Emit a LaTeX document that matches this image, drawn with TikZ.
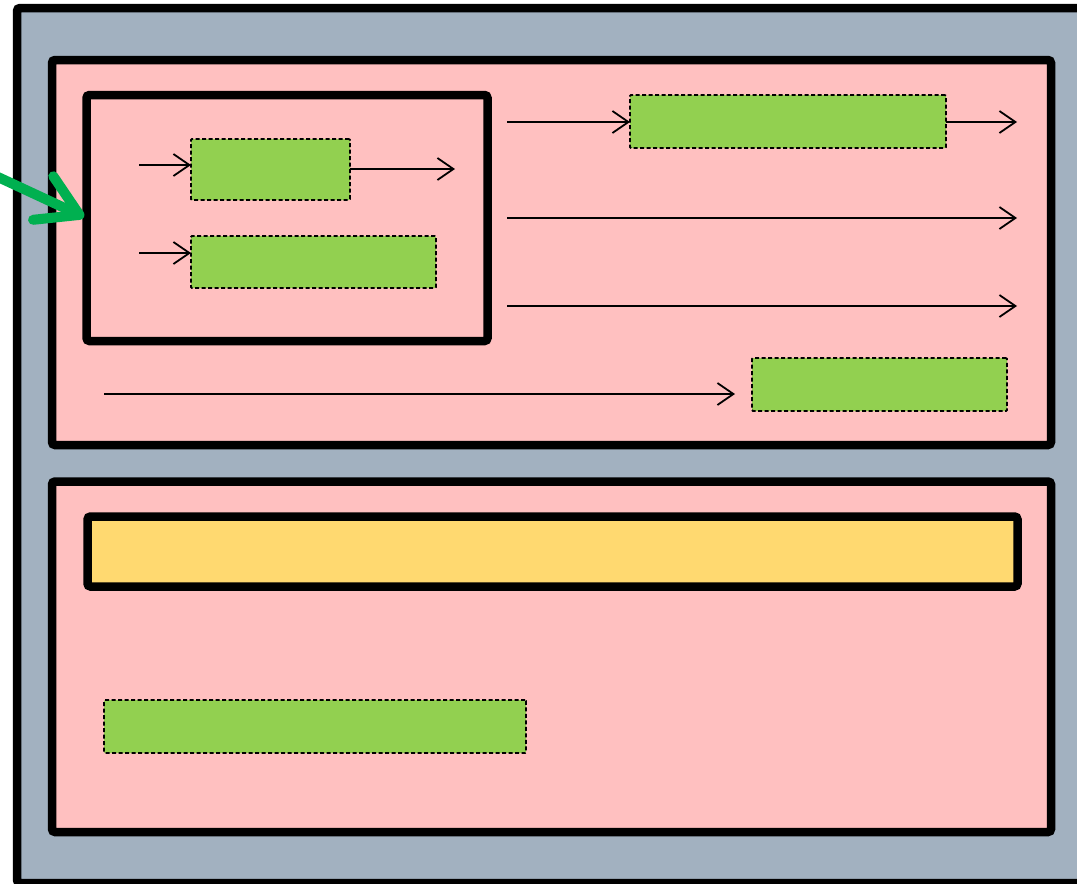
\documentclass[tikz,border=0pt]{standalone}
\usetikzlibrary{arrows.meta}
\definecolor{bggrey}{RGB}{162,177,192}
\definecolor{pinkfill}{RGB}{255,192,192}
\definecolor{greenfill}{RGB}{146,208,80}
\definecolor{yellowfill}{RGB}{255,217,112}
\definecolor{arrowgreen}{RGB}{0,176,80}
\tikzset{
  frame/.style={draw=black, line width=8.5pt, rounded corners=3pt, inner sep=0pt, outer sep=0pt, anchor=north west},
  greenbox/.style={draw=black, fill=greenfill, line width=1.8pt, dash pattern=on 4pt off 2.5pt, rounded corners=1pt, inner sep=0pt, outer sep=0pt, anchor=north west},
  conn/.style={line width=1.8pt, -{Straight Barb[length=16pt,width=22pt,line width=1.8pt]}},
  bigarrow/.style={draw=arrowgreen, line width=10pt, line cap=round, -{Straight Barb[length=40pt,width=48pt,round]}},
}
\begin{document}
\begin{tikzpicture}[x=1pt,y=-1pt]
\useasboundingbox (0,0) rectangle (1077,884);
% outer grey frame
\node[frame, fill=bggrey, minimum width=1068pt, minimum height=875pt] (outer) at (17,8) {};
% top and bottom panels
\node[frame, fill=pinkfill, minimum width=999pt, minimum height=385pt] (top) at (52,60) {};
\node[frame, fill=pinkfill, minimum width=999pt, minimum height=350.5pt] (bottom) at (52,481.5) {};
% inner box
\node[frame, fill=pinkfill, minimum width=401pt, minimum height=246pt] (inner) at (86.5,95) {};
% yellow bar
\node[frame, fill=yellowfill, minimum width=930pt, minimum height=70pt] (bar) at (87.5,516.5) {};
% green boxes
\node[greenbox, minimum width=159pt, minimum height=61pt] (A) at (191,139) {};
\node[greenbox, minimum width=245pt, minimum height=52pt] (B) at (191,236) {};
\node[greenbox, minimum width=316pt, minimum height=53pt] (C) at (630,95) {};
\node[greenbox, minimum width=255pt, minimum height=53pt] (D) at (752,358) {};
\node[greenbox, minimum width=422pt, minimum height=53pt] (E) at (104,700) {};
% connector coordinates
\coordinate (a1s) at (139,165);
\coordinate (a1e) at (455,169);
\coordinate (b1s) at (139,253);
\coordinate (c1s) at (507,122);
\coordinate (c1e) at (1017,122);
\coordinate (r2s) at (507,218);
\coordinate (r2e) at (1017,218);
\coordinate (r3s) at (507,306);
\coordinate (r3e) at (1017,306);
\coordinate (d1s) at (104,394);
\coordinate (d1e) at (735,394);
\coordinate (gs) at (-30,164);
\coordinate (gt) at (84,217);
% connectors
\draw[conn] (a1s) -- (a1s -| A.west);
\draw[conn] (A.east |- a1e) -- (a1e);
\draw[conn] (b1s) -- (b1s -| B.west);
\draw[conn] (c1s) -- (c1s -| C.west);
\draw[conn] (C.east |- c1e) -- (c1e);
\draw[conn] (r2s) -- (r2e);
\draw[conn] (r3s) -- (r3e);
\draw[conn] (d1s) -- (d1e);
% green arrow
\draw[bigarrow] (gs) -- (gt);
\end{tikzpicture}
\end{document}
